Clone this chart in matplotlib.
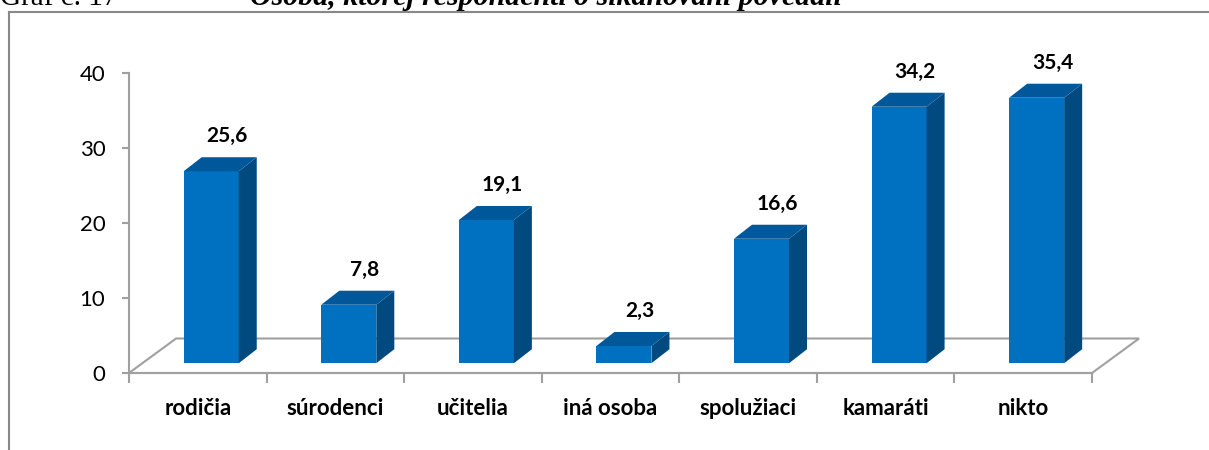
import matplotlib.pyplot as plt
from matplotlib.patches import Polygon

#%% data
categories = ['rodičia', 'súrodenci', 'učitelia', 'iná osoba', 'spolužiaci', 'kamaráti', 'nikto']
values = [25.6, 7.8, 19.1, 2.3, 16.6, 34.2, 35.4]
labels = ['25,6', '7,8', '19,1', '2,3', '16,6', '34,2', '35,4']
yticks = [0, 10, 20, 30, 40]

#%% styling
c_front = '#0070C0'
c_top = '#00589A'
c_side = '#004A80'
c_grid = '#A0A0A0'
font = 'Lato'

# 3d offsets in data units (x in categories, y in value units)
floor_dx, floor_dy = 0.342, 4.6
front_dx, front_dy = 0.0975, 1.3
depth_dx, depth_dy = 0.131, 1.87
bar_w = 0.40

fig = plt.figure(figsize=(12.09, 4.5), dpi=100)
ax = fig.add_axes([129 / 1209, 77 / 450, (1092 - 129) / 1209, 300 / 450])
ax.set_xlim(0, 7)
ax.set_ylim(0, 40)

# floor
floor = Polygon([(0, 0), (7, 0), (7 + floor_dx, floor_dy), (floor_dx, floor_dy)],
                closed=True, facecolor='none', edgecolor=c_grid, lw=1.5,
                clip_on=False, zorder=1)
ax.add_patch(floor)

for i, v in enumerate(values):
    x0 = i + 0.5 - bar_w / 2 + front_dx
    x1 = x0 + bar_w
    y0 = front_dy
    y1 = front_dy + v
    front = Polygon([(x0, y0), (x1, y0), (x1, y1), (x0, y1)], closed=True,
                    facecolor=c_front, edgecolor='none', clip_on=False, zorder=3)
    side = Polygon([(x1, y0), (x1 + depth_dx, y0 + depth_dy), (x1 + depth_dx, y1 + depth_dy), (x1, y1)],
                   closed=True, facecolor=c_side, edgecolor='none', clip_on=False, zorder=3)
    top = Polygon([(x0, y1), (x1, y1), (x1 + depth_dx, y1 + depth_dy), (x0 + depth_dx, y1 + depth_dy)],
                  closed=True, facecolor=c_top, edgecolor='none', clip_on=False, zorder=3)
    ax.add_patch(front)
    ax.add_patch(side)
    ax.add_patch(top)
    ax.annotate(labels[i], xy=((x0 + x1) / 2 + depth_dx * 0.9, y1 + depth_dy),
                xytext=(0, 11), textcoords='offset pixels', ha='center', va='bottom',
                fontsize=15, fontweight='bold', family=font, annotation_clip=False)

for s in ['top', 'right', 'bottom']:
    ax.spines[s].set_visible(False)
ax.spines['left'].set_color(c_grid)
ax.spines['left'].set_linewidth(1.5)
ax.plot([0, 7], [0, 0], color=c_grid, lw=1.5, clip_on=False, zorder=2)

ax.set_yticks(yticks)
ax.set_yticklabels([str(t) for t in yticks], fontsize=16, family=font)
ax.tick_params(axis='y', length=5, width=1.5, color=c_grid, pad=12)

ax.set_xticks(range(8))
ax.set_xticklabels([])
ax.tick_params(axis='x', which='major', length=7, width=1.5, color=c_grid)
ax.set_xticks([i + 0.5 for i in range(7)], minor=True)
ax.set_xticklabels(categories, minor=True, fontsize=16, fontweight='bold', family=font)
ax.tick_params(axis='x', which='minor', length=0, pad=18)

# outer frame and cut-off caption
fig.add_artist(plt.Line2D([9 / 1209, 9 / 1209], [0, 1 - 11.5 / 450], color='#888888', lw=1.5))
fig.add_artist(plt.Line2D([9 / 1209, 1], [1 - 11.5 / 450, 1 - 11.5 / 450], color='#888888', lw=1.5))
fig.text(0 / 1209, 1 - 5 / 450, 'Graf č. 17', family='Liberation Serif', fontsize=21,
         ha='left', va='baseline')
fig.text(250 / 1209, 1 - 5 / 450, 'Osoba, ktorej respondenti o šikanovaní povedali',
         family='Liberation Serif', fontsize=21.5, fontweight='bold', style='italic',
         ha='left', va='baseline')

fig.savefig('out.png', dpi=100)
